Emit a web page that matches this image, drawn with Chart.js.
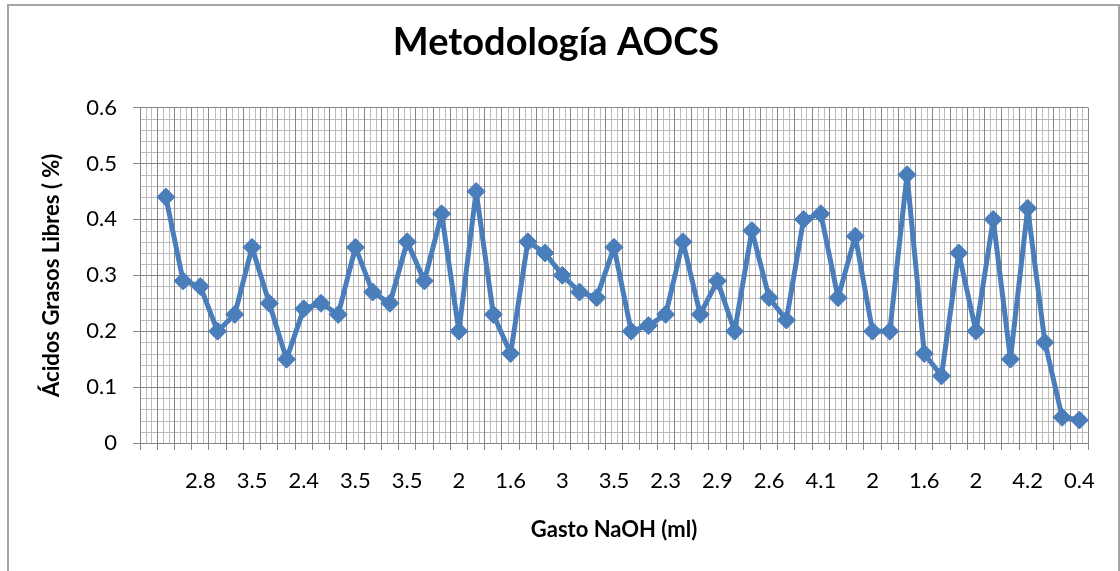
<!DOCTYPE html>
<html>
<head>
<meta charset="utf-8">
<title>Metodología AOCS</title>
<script src="https://cdn.jsdelivr.net/npm/chart.js@4.4.1/dist/chart.umd.min.js"></script>
<style>
  html, body { margin: 0; padding: 0; background: #fff; }
  #wrap { position: relative; width: 1120px; height: 571px; overflow: hidden; }
  #chart { position: absolute; left: 0; top: 0; }
  #frame {
    position: absolute; left: 7px; top: 4px; width: 1109px; height: 620px;
    border: 2px solid #a5a5a5; pointer-events: none;
  }
</style>
</head>
<body>
<div id="wrap">
  <canvas id="chart" width="1120" height="571"></canvas>
  <div id="frame"></div>
</div>
<script>
// --------------------- Data -------------------
// labels shown on the x axis (every third category, starting at the 4th)
const tickLabels = ['2.8', '3.5', '2.4', '3.5', '3.5', '2', '1.6', '3', '3.5',
                    '2.3', '2.9', '2.6', '4.1', '2', '1.6', '2', '4.2', '0.4'];

// Ácidos grasos libres (%) — one value per sample
const acidValues = [0.44, 0.29, 0.28, 0.20, 0.23, 0.35, 0.25, 0.15, 0.24, 0.25,
                    0.23, 0.35, 0.27, 0.25, 0.36, 0.29, 0.41, 0.20, 0.45, 0.23,
                    0.16, 0.36, 0.34, 0.30, 0.27, 0.26, 0.35, 0.20, 0.21, 0.23,
                    0.36, 0.23, 0.29, 0.20, 0.38, 0.26, 0.22, 0.40, 0.41, 0.26,
                    0.37, 0.20, 0.20, 0.48, 0.16, 0.12, 0.34, 0.20, 0.40, 0.15,
                    0.42, 0.18, 0.046, 0.041];

const yTicks = [0, 0.1, 0.2, 0.3, 0.4, 0.5, 0.6];

// first category is empty, then one per sample
const categories = [''];
const seriesData = [null];
acidValues.forEach((v, i) => {
    const idx = i + 1;
    categories.push(idx % 3 === 0 ? tickLabels[idx / 3 - 1] : '');
    seriesData.push(v);
});

// --------------------- Minor grid plugin -------------------
const minorGrid = {
    id: 'minorGrid',
    beforeDraw(chart) {
        const { ctx, chartArea, scales } = chart;
        ctx.save();
        ctx.strokeStyle = '#bcbcbc';
        ctx.lineWidth = 1;
        ctx.beginPath();
        // horizontal minor lines every 0.02
        for (let k = 1; k < 30; k++) {
            if (k % 5 === 0) continue;
            const y = Math.round(scales.y.getPixelForValue(k * 0.02)) + 0.5;
            ctx.moveTo(chartArea.left, y);
            ctx.lineTo(chartArea.right, y);
        }
        // vertical minor lines, two inside each category
        for (let i = 0; i < categories.length; i++) {
            [1 / 3, 2 / 3].forEach(f => {
                const x = Math.round(scales.x.getPixelForValue(i - 0.5 + f)) + 0.5;
                ctx.moveTo(x, chartArea.top);
                ctx.lineTo(x, chartArea.bottom);
            });
        }
        ctx.stroke();
        ctx.restore();
    }
};

// --------------------- Chart -------------------
const blue = '#4A7EBB';
const ctx = document.getElementById('chart').getContext('2d');
new Chart(ctx, {
    type: 'line',
    data: {
        labels: categories,
        datasets: [{
            data: seriesData,
            borderColor: blue,
            backgroundColor: blue,
            borderWidth: 5,
            borderJoinStyle: 'round',
            tension: 0,
            pointStyle: 'rectRot',
            pointRadius: 9,
            pointBorderWidth: 1,
            pointBackgroundColor: blue,
            pointBorderColor: blue
        }]
    },
    options: {
        responsive: false,
        animation: false,
        devicePixelRatio: 1,
        layout: { padding: { left: 24, right: 32, top: 0, bottom: 0 } },
        plugins: {
            legend: { display: false },
            tooltip: { enabled: false },
            title: {
                display: true,
                text: 'Metodología AOCS',
                color: '#000',
                font: { family: 'Lato', size: 38, weight: 'bold', lineHeight: 1.2 },
                padding: { top: 20, bottom: 42 }
            }
        },
        scales: {
            x: {
                offset: true,
                grid: { offset: true, color: '#868686', lineWidth: 1, tickLength: 7 },
                border: { color: '#868686' },
                ticks: {
                    autoSkip: false, maxRotation: 0, minRotation: 0,
                    color: '#000', padding: 18,
                    font: { family: 'Lato', size: 22 }
                },
                title: {
                    display: true,
                    text: 'Gasto NaOH (ml)',
                    color: '#000',
                    font: { family: 'Lato', size: 22, weight: 'bold', lineHeight: 1.2 },
                    padding: { top: 0, bottom: 28 }
                },
                afterFit(scale) { scale.height = 128; }
            },
            y: {
                min: 0,
                max: 0.6,
                afterBuildTicks(scale) { scale.ticks = yTicks.map(v => ({ value: v })); },
                grid: { color: '#868686', lineWidth: 1, tickLength: 7 },
                border: { color: '#868686' },
                ticks: {
                    color: '#000', padding: 16,
                    font: { family: 'Lato', size: 22 },
                    callback: v => String(v)
                },
                title: {
                    display: true,
                    text: 'Ácidos Grasos Libres ( %)',
                    color: '#000',
                    font: { family: 'Lato', size: 22, weight: 'bold', lineHeight: 1.2 },
                    padding: { top: 15, bottom: 0 }
                },
                afterFit(scale) { scale.width = 116; }
            }
        }
    },
    plugins: [minorGrid]
});
</script>
</body>
</html>
